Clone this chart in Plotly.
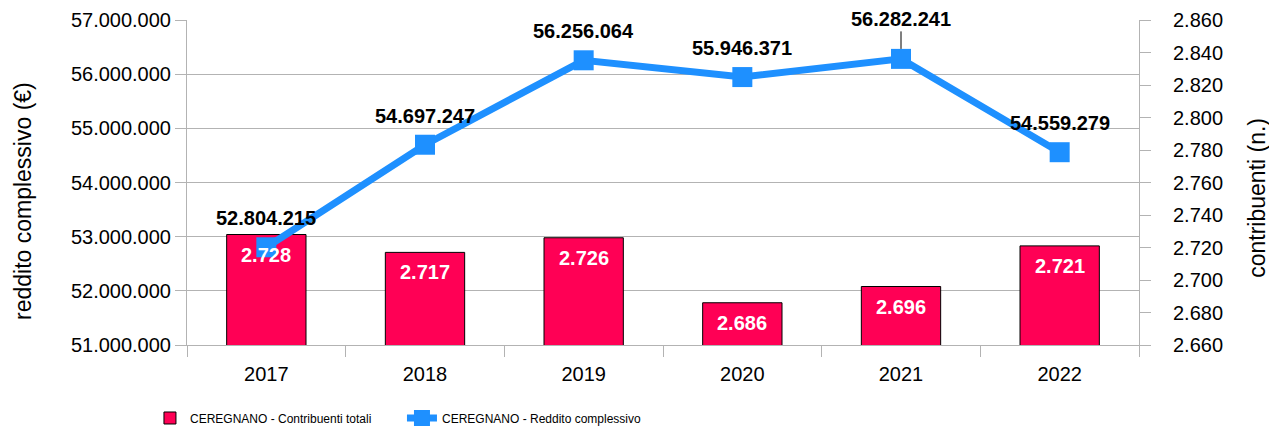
import plotly.graph_objects as go

years = ["2017", "2018", "2019", "2020", "2021", "2022"]
contribuenti = [2728, 2717, 2726, 2686, 2696, 2721]
reddito = [52804215, 54697247, 56256064, 55946371, 56282241, 54559279]

bar_name = "CEREGNANO - Contribuenti totali"
line_name = "CEREGNANO - Reddito complessivo"
left_title = "reddito complessivo (€)"
right_title = "contribuenti (n.)"

BAR_COLOR = "#ff0055"
LINE_COLOR = "#1e90ff"
GRID = "#b3b3b3"
FONT = "Liberation Sans, Arial, sans-serif"


def fmt(v):
    return f"{v:,}".replace(",", ".")


fig = go.Figure()
fig.add_trace(go.Bar(
    x=years, y=contribuenti, name=bar_name, yaxis="y",
    marker=dict(color=BAR_COLOR, line=dict(color="#000000", width=1)),
    width=0.5,
))
fig.add_trace(go.Scatter(
    x=years, y=reddito, name=line_name, yaxis="y2", mode="lines+markers",
    line=dict(color=LINE_COLOR, width=7),
    marker=dict(symbol="square", size=20, color=LINE_COLOR),
))

annotations = []
for i, v in enumerate(contribuenti):
    annotations.append(dict(
        x=i, y=v, xref="x", yref="y", text="<b>" + fmt(v) + "</b>", showarrow=False,
        yshift=-20, font=dict(family=FONT, size=20, color="#ffffff"),
    ))
for i, (yr, v) in enumerate(zip(years, reddito)):
    a = dict(x=i, y=v, xref="x", yref="y2", text="<b>" + fmt(v) + "</b>",
             font=dict(family=FONT, size=20, color="#000000"))
    if yr == "2021":
        a.update(showarrow=True, ax=0, ay=-40, arrowhead=0, arrowwidth=1,
                 arrowcolor="#000000", standoff=10)
    else:
        a.update(showarrow=False, yshift=29)
    annotations.append(a)

# axis titles as rotated annotations (centred like the reference)
annotations.append(dict(
    x=-0.1723, y=0.443, xref="paper", yref="paper", text=left_title, textangle=-90,
    showarrow=False, xanchor="center", yanchor="middle",
    font=dict(family=FONT, size=23, color="#000000"),
))
annotations.append(dict(
    x=1.1236, y=0.452, xref="paper", yref="paper", text=right_title, textangle=-90,
    showarrow=False, xanchor="center", yanchor="middle",
    font=dict(family=FONT, size=23, color="#000000"),
))

fig.update_layout(
    template="none",
    width=1277, height=430,
    margin=dict(l=179, r=146, t=12, b=93, autoexpand=False),
    paper_bgcolor="#ffffff", plot_bgcolor="#ffffff",
    separators=",.",
    font=dict(family=FONT, size=20, color="#000000"),
    showlegend=True,
    legend=dict(
        orientation="h", x=-0.0389, xanchor="left", y=-0.2246, yanchor="middle",
        font=dict(family=FONT, size=12, color="#000000"),
        entrywidth=207, entrywidthmode="pixels",
        traceorder="normal", bgcolor="rgba(0,0,0,0)",
    ),
    xaxis=dict(
        type="category", range=[-0.5, 5.5], automargin=False,
        showline=True, linecolor=GRID, linewidth=1,
        ticks="outside", tickson="boundaries", ticklen=11, tickcolor=GRID,
        ticklabelstandoff=11,
        showgrid=False, zeroline=False,
        tickfont=dict(family=FONT, size=20, color="#000000"),
    ),
    yaxis=dict(
        side="right", range=[2660, 2860], dtick=20, tickformat=",d", automargin=False,
        showgrid=False, showline=True, linecolor=GRID, linewidth=1,
        ticks="outside", ticklen=11, tickcolor=GRID, ticklabelstandoff=18,
        tickfont=dict(family=FONT, size=20, color="#000000"),
        zeroline=False,
    ),
    yaxis2=dict(
        side="left", overlaying="y", range=[51000000, 57000000], dtick=1000000,
        tickformat=",d", automargin=False,
        showgrid=True, gridcolor=GRID, gridwidth=1,
        showline=True, linecolor=GRID, linewidth=1,
        ticks="outside", ticklen=11, tickcolor=GRID,
        tickfont=dict(family=FONT, size=20, color="#000000"),
        zeroline=False,
    ),
    annotations=annotations,
)

fig.write_html("out.html")
